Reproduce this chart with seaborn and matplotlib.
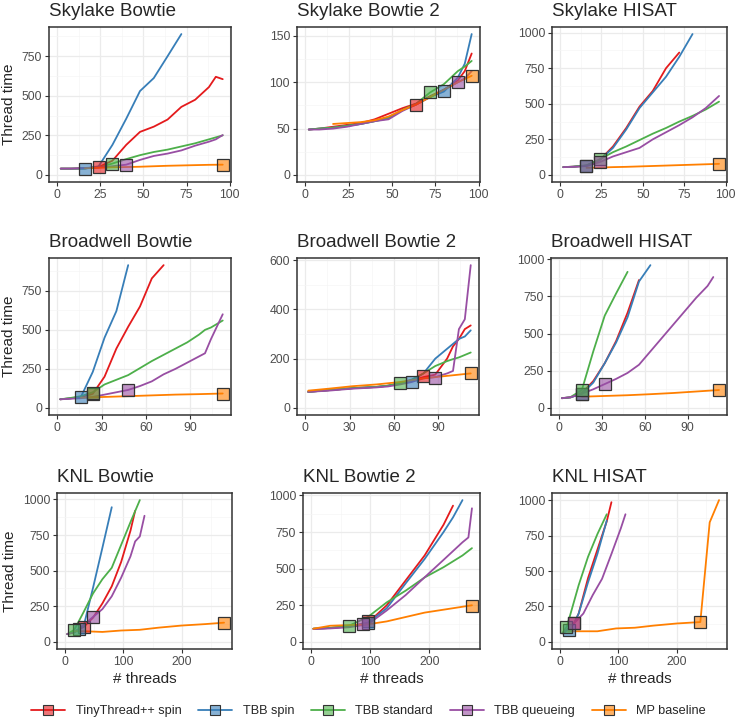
import matplotlib
matplotlib.use("Agg")
import numpy as np
import pandas as pd
import seaborn as sns
import matplotlib.pyplot as plt
from matplotlib.colors import to_rgba
from matplotlib.lines import Line2D
from matplotlib.ticker import MultipleLocator, AutoMinorLocator

# implementations and colours (Set1)
series = ["TinyThread++ spin", "TBB spin", "TBB standard", "TBB queueing", "MP baseline"]
colors = ["#E41A1C", "#377EB8", "#4DAF4A", "#984EA3", "#FF7F00"]

################################################################################
# Skylake
skylake_bowtie = {
    "TinyThread++ spin": ([2, 8, 16, 24, 32, 40, 48, 56, 64, 72, 80, 88, 92, 96],
                          [40, 40, 42, 50, 90, 190, 272, 305, 350, 430, 475, 555, 620, 605]),
    "TBB spin": ([2, 8, 16, 24, 32, 40, 48, 56, 64, 72],
                 [40, 40, 40, 55, 190, 355, 530, 612, 750, 890]),
    "TBB standard": ([2, 8, 16, 24, 32, 40, 48, 56, 64, 72, 80, 88, 96],
                     [40, 40, 42, 48, 72, 100, 125, 145, 160, 180, 200, 225, 250]),
    "TBB queueing": ([2, 8, 16, 24, 32, 40, 48, 56, 64, 72, 80, 88, 92, 96],
                     [40, 40, 44, 48, 55, 65, 95, 120, 135, 155, 185, 210, 225, 252]),
    "MP baseline": ([16, 24, 32, 40, 48, 56, 64, 72, 80, 88, 96],
                    [42, 45, 48, 50, 52, 55, 58, 60, 62, 64, 65]),
}
skylake_bowtie_best = {"TinyThread++ spin": (24, 50), "TBB spin": (16, 40), "TBB standard": (32, 72),
                       "TBB queueing": (40, 65), "MP baseline": (96, 65)}

sky_threads = [2, 8, 16, 24, 32, 40, 48, 56, 64, 72, 80, 88, 92, 96]
skylake_bowtie2 = {
    "TinyThread++ spin": (sky_threads, [49, 50, 52, 54, 56, 60, 66, 72, 77, 85, 92, 102, 112, 131]),
    "TBB spin": (sky_threads, [49, 50, 51, 53, 55, 58, 62, 70, 76, 84, 90, 105, 120, 152]),
    "TBB standard": (sky_threads, [49, 50, 51, 53, 55, 58, 61, 70, 77, 89, 98, 112, 117, 123]),
    "TBB queueing": (sky_threads, [49, 49, 50, 52, 55, 58, 60, 69, 76, 84, 92, 100, 104, 112]),
    "MP baseline": ([16, 24, 32, 40, 48, 56, 64, 72, 80, 88, 96],
                    [55, 56, 57, 59, 63, 70, 76, 84, 92, 100, 107]),
}
skylake_bowtie2_best = {"TinyThread++ spin": (64, 76), "TBB spin": (80, 91), "TBB standard": (72, 89),
                        "TBB queueing": (88, 100), "MP baseline": (96, 107)}

skylake_hisat = {
    "TinyThread++ spin": ([2, 8, 16, 24, 32, 40, 48, 56, 64, 72],
                          [55, 58, 65, 105, 200, 330, 480, 590, 750, 860]),
    "TBB spin": ([2, 8, 16, 24, 32, 40, 48, 56, 64, 72, 80],
                 [55, 58, 65, 105, 190, 320, 470, 580, 690, 830, 990]),
    "TBB standard": ([2, 8, 16, 24, 32, 40, 48, 56, 64, 72, 80, 88, 96],
                     [55, 58, 68, 110, 160, 200, 245, 290, 330, 375, 415, 460, 515]),
    "TBB queueing": ([2, 8, 16, 24, 32, 40, 48, 56, 64, 72, 80, 88, 96],
                     [55, 57, 62, 90, 130, 160, 190, 250, 300, 350, 405, 470, 555]),
    "MP baseline": ([16, 24, 32, 40, 48, 56, 64, 72, 80, 88, 96],
                    [50, 52, 55, 57, 60, 63, 66, 69, 72, 75, 78]),
}
skylake_hisat_best = {"TinyThread++ spin": (16, 62), "TBB spin": (16, 62), "TBB standard": (24, 110),
                      "TBB queueing": (24, 88), "MP baseline": (96, 78)}

################################################################################
# Broadwell
broadwell_bowtie = {
    "TinyThread++ spin": ([2, 8, 16, 24, 32, 40, 48, 56, 64, 72],
                          [55, 60, 68, 90, 200, 380, 520, 650, 830, 915]),
    "TBB spin": ([2, 8, 16, 24, 32, 40, 48], [55, 60, 70, 230, 450, 620, 915]),
    "TBB standard": ([2, 8, 16, 24, 32, 40, 48, 56, 64, 72, 80, 88, 96, 100, 104, 112],
                     [55, 62, 75, 100, 150, 180, 210, 255, 300, 340, 380, 420, 470, 500, 515, 560]),
    "TBB queueing": ([2, 8, 16, 24, 32, 40, 48, 56, 64, 72, 80, 88, 96, 100, 104, 112],
                     [55, 58, 62, 70, 85, 100, 115, 140, 170, 215, 250, 290, 330, 350, 440, 600]),
    "MP baseline": ([16, 24, 32, 48, 64, 80, 96, 112], [65, 68, 70, 75, 80, 85, 88, 92]),
}
broadwell_bowtie_best = {"TinyThread++ spin": (24, 90), "TBB spin": (16, 70), "TBB standard": (24, 98),
                         "TBB queueing": (48, 115), "MP baseline": (112, 92)}

bdw_threads = [2, 16, 32, 48, 56, 64, 72, 80, 88, 96, 100, 104, 108, 112]
broadwell_bowtie2 = {
    "TinyThread++ spin": (bdw_threads, [65, 72, 80, 85, 90, 100, 110, 125, 135, 200, 250, 280, 320, 335]),
    "TBB spin": (bdw_threads, [65, 72, 80, 85, 90, 100, 110, 140, 200, 240, 260, 280, 290, 315]),
    "TBB standard": (bdw_threads, [65, 72, 80, 85, 90, 100, 115, 140, 170, 190, 198, 205, 215, 225]),
    "TBB queueing": (bdw_threads, [65, 70, 78, 83, 87, 95, 105, 120, 125, 140, 150, 320, 360, 580]),
    "MP baseline": ([2, 16, 32, 48, 64, 80, 96, 112], [70, 78, 88, 95, 105, 120, 130, 140]),
}
broadwell_bowtie2_best = {"TinyThread++ spin": (80, 128), "TBB spin": (72, 105), "TBB standard": (64, 102),
                          "TBB queueing": (88, 122), "MP baseline": (112, 140)}

broadwell_hisat = {
    "TinyThread++ spin": ([2, 8, 16, 24, 32, 40, 48, 56], [65, 70, 100, 180, 300, 450, 640, 860]),
    "TBB spin": ([2, 8, 16, 24, 32, 40, 48, 56, 64], [65, 70, 95, 170, 300, 440, 610, 850, 960]),
    "TBB standard": ([2, 8, 16, 24, 32, 40, 48], [65, 72, 120, 380, 620, 770, 915]),
    "TBB queueing": ([2, 8, 16, 24, 32, 40, 48, 56, 64, 72, 80, 88, 96, 104, 108],
                     [65, 72, 95, 125, 160, 195, 235, 290, 380, 470, 560, 650, 740, 820, 880]),
    "MP baseline": ([16, 32, 48, 64, 80, 96, 112], [75, 80, 85, 92, 100, 110, 120]),
}
broadwell_hisat_best = {"TinyThread++ spin": (16, 95), "TBB spin": (16, 95), "TBB standard": (16, 120),
                        "TBB queueing": (32, 162), "MP baseline": (112, 118)}

################################################################################
# KNL
knl_bowtie = {
    "TinyThread++ spin": ([4, 16, 32, 48, 64, 80, 96, 112, 120],
                          [55, 70, 105, 170, 270, 390, 560, 780, 920]),
    "TBB spin": ([4, 16, 24, 32, 48, 64, 80], [55, 70, 90, 110, 380, 660, 945]),
    "TBB standard": ([4, 16, 32, 48, 64, 80, 96, 112, 128],
                     [55, 85, 210, 340, 440, 520, 680, 840, 995]),
    "TBB queueing": ([4, 16, 32, 48, 64, 80, 96, 112, 120, 128, 136],
                     [55, 65, 120, 175, 230, 320, 450, 600, 705, 740, 885]),
    "MP baseline": ([16, 32, 64, 96, 128, 160, 200, 240, 272], [75, 75, 70, 80, 85, 100, 115, 125, 135]),
}
knl_bowtie_best = {"TinyThread++ spin": (32, 105), "TBB spin": (24, 90), "TBB standard": (16, 85),
                   "TBB queueing": (48, 175), "MP baseline": (272, 135)}

knl_bowtie2 = {
    "TinyThread++ spin": ([4, 32, 64, 96, 128, 160, 192, 224, 240],
                          [90, 95, 105, 130, 250, 420, 590, 800, 930]),
    "TBB spin": ([4, 32, 64, 96, 128, 160, 192, 224, 240, 256],
                 [90, 95, 105, 130, 230, 400, 566, 750, 850, 968]),
    "TBB standard": ([4, 32, 64, 96, 128, 160, 192, 224, 256, 272],
                     [90, 95, 110, 170, 270, 350, 440, 510, 590, 640]),
    "TBB queueing": ([4, 32, 64, 96, 128, 160, 192, 224, 256, 266, 272],
                     [88, 92, 100, 120, 215, 320, 441, 560, 680, 713, 912]),
    "MP baseline": ([4, 32, 64, 96, 128, 160, 192, 224, 272], [90, 110, 115, 120, 140, 170, 200, 220, 250]),
}
knl_bowtie2_best = {"TinyThread++ spin": (96, 140), "TBB spin": (96, 132), "TBB standard": (64, 112),
                    "TBB queueing": (88, 122), "MP baseline": (272, 248)}

knl_hisat = {
    "TinyThread++ spin": ([16, 24, 32, 48, 64, 80, 88], [100, 130, 200, 450, 650, 850, 985]),
    "TBB spin": ([8, 16, 24, 32, 48, 64, 80], [70, 90, 130, 200, 420, 620, 855]),
    "TBB standard": ([4, 12, 32, 48, 64, 80], [60, 110, 400, 600, 760, 900]),
    "TBB queueing": ([4, 24, 40, 56, 72, 88, 104, 112], [60, 130, 200, 330, 445, 620, 800, 900]),
    "MP baseline": ([14, 64, 96, 128, 160, 200, 240, 256, 272], [75, 75, 95, 100, 115, 130, 140, 843, 1000]),
}
knl_hisat_best = {"TinyThread++ spin": (24, 133), "TBB spin": (16, 87), "TBB standard": (11, 108),
                  "TBB queueing": (24, 133), "MP baseline": (240, 140)}

################################################################################
sns.set_theme(style="whitegrid")
plt.rcParams["font.family"] = ["Liberation Sans", "DejaVu Sans"]

W, H = 737, 720
fig = plt.figure(figsize=(W / 100, H / 100), dpi=100)

# (title, data, best, x step, y step, panel box in px: left, top, right, bottom)
panels = [
    ("Skylake Bowtie", skylake_bowtie, skylake_bowtie_best, 25, 250, (49, 27, 231, 182)),
    ("Skylake Bowtie 2", skylake_bowtie2, skylake_bowtie2_best, 25, 50, (297, 27, 480, 182)),
    ("Skylake HISAT", skylake_hisat, skylake_hisat_best, 25, 250, (552, 27, 727, 182)),
    ("Broadwell Bowtie", broadwell_bowtie, broadwell_bowtie_best, 30, 250, (49, 258, 231, 415)),
    ("Broadwell Bowtie 2", broadwell_bowtie2, broadwell_bowtie2_best, 30, 200, (297, 258, 479, 415)),
    ("Broadwell HISAT", broadwell_hisat, broadwell_hisat_best, 30, 250, (551, 258, 727, 415)),
    ("KNL Bowtie", knl_bowtie, knl_bowtie_best, 100, 250, (57, 493, 232, 649)),
    ("KNL Bowtie 2", knl_bowtie2, knl_bowtie2_best, 100, 250, (303, 493, 480, 649)),
    ("KNL HISAT", knl_hisat, knl_hisat_best, 100, 250, (552, 493, 727, 649)),
]

for i, (title, data, best, xstep, ystep, (l, t, r, b)) in enumerate(panels):
    ax = fig.add_axes([l / W, 1 - b / H, (r - l) / W, (b - t) / H])
    rows = []
    for impl in series:
        xs, ys = data[impl]
        rows += [{"threads": x, "time": y, "impl": impl} for x, y in zip(xs, ys)]
    df = pd.DataFrame(rows)
    sns.lineplot(data=df, x="threads", y="time", hue="impl", hue_order=series,
                 palette=colors, estimator=None, sort=False, lw=1.3, legend=False, ax=ax)
    for impl, c in zip(series, colors):
        bx, by = best[impl]
        ax.plot(bx, by, marker="s", ms=9, mfc=to_rgba(c, 0.6), mec="#333333", mew=0.9,
                ls="none", zorder=5)

    # ggplot-like limits: include 0 and expand 5%
    xmax = df["threads"].max()
    ymax = max(df["time"].max(), max(v[1] for v in best.values()))
    ax.set_xlim(-0.05 * xmax, 1.05 * xmax)
    ax.set_ylim(-0.05 * ymax, 1.05 * ymax)
    ax.xaxis.set_major_locator(MultipleLocator(xstep))
    ax.yaxis.set_major_locator(MultipleLocator(ystep))
    ax.xaxis.set_minor_locator(AutoMinorLocator(2))
    ax.yaxis.set_minor_locator(AutoMinorLocator(2))

    ax.grid(which="major", color="#EBEBEB", lw=0.9)
    ax.grid(which="minor", color="#F5F5F5", lw=0.5)
    for sp in ax.spines.values():
        sp.set_color("#333333")
        sp.set_linewidth(1.1)
    ax.tick_params(which="major", length=3, width=0.8, color="#333333",
                   labelcolor="#4D4D4D", labelsize=8.8, pad=2, left=True, bottom=True)
    ax.tick_params(which="minor", length=0)

    ax.set_title(title, loc="left", fontsize=13.5, pad=8)
    ax.set_ylabel("Thread time" if i % 3 == 0 else "", fontsize=11)
    ax.set_xlabel("# threads" if i >= 6 else "", fontsize=11, labelpad=3)

handles = [Line2D([], [], color=c, lw=1.3, marker="s", ms=7, mfc=to_rgba(c, 0.6),
                  mec="#333333", mew=0.8) for c in colors]
fig.legend(handles, series, loc="center", bbox_to_anchor=(0.5, 1 - 711 / H), ncol=5,
           frameon=False, fontsize=9.2, handlelength=2.7, columnspacing=1.3, handletextpad=0.8)

fig.savefig("out.png", dpi=100)
